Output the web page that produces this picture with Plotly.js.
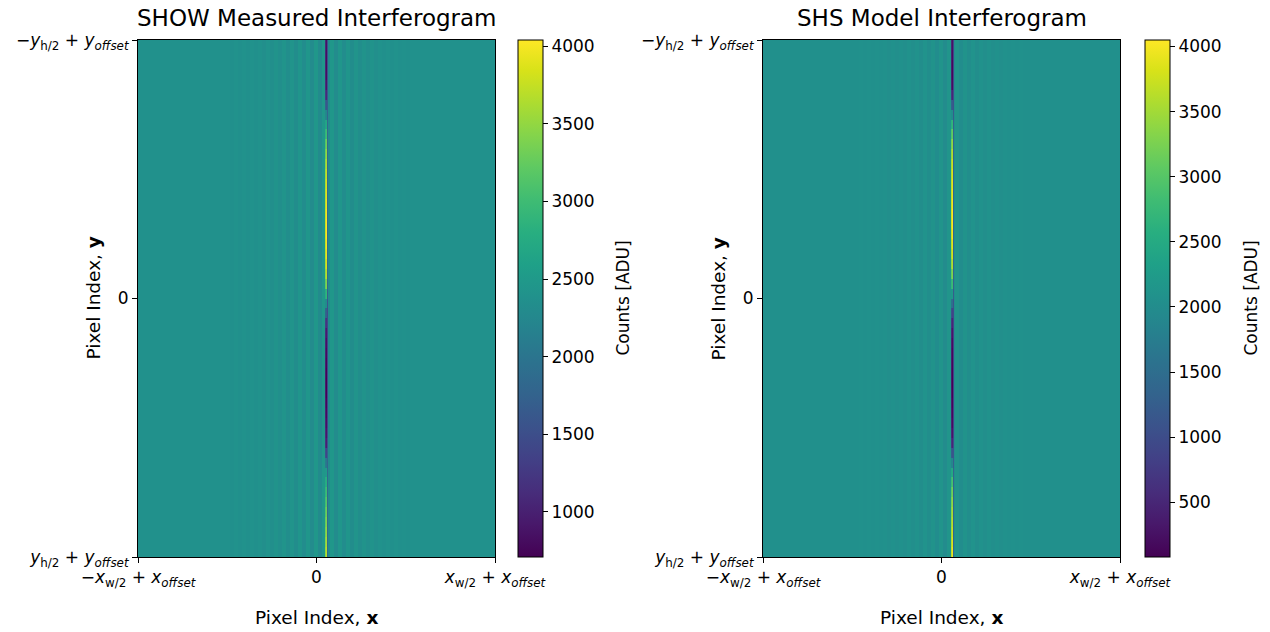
<!DOCTYPE html>
<html>
<head>
<meta charset="utf-8">
<script src="https://cdn.plot.ly/plotly-3.0.1.min.js"></script>
<style>html,body{margin:0;padding:0;background:#fff;}#chart{width:1270px;height:632px;}</style>
</head>
<body>
<div id="chart"></div>
<script>
// ---- Data ----
const panelTitles = ["SHOW Measured Interferogram", "SHS Model Interferogram"];
const colorbarTitle = "Counts [ADU]";
const xAxisTitle = "Pixel Index, <b>x</b>";
const yAxisTitle = "Pixel Index, <b>y</b>";
const xTickText = ["−<i>x</i><sub>w/2</sub> + <i>x</i><sub><i>offset</i></sub>", "0", "<i>x</i><sub>w/2</sub> + <i>x</i><sub><i>offset</i></sub>"];
const yTickText = ["−<i>y</i><sub>h/2</sub> + <i>y</i><sub><i>offset</i></sub>", "0", "<i>y</i><sub>h/2</sub> + <i>y</i><sub><i>offset</i></sub>"];

// pixel grid (relative to centre)
const halfWidth = 178;   // columns -178..178
const halfHeight = 260;  // rows of 10 px from -260..260
const rowStep = 10;

// background level (ADU)
const measuredBackground = 2380;
const modelBackground = 2060;

// fringe column (relative to centre)
const measuredFringeCol = 10;
const modelFringeCol = 11;

// value at the fringe column, one per row band (top to bottom)
const measuredPeak = [850,820,800,820,900,1100,1600,2200,2700,3000,3300,3500,3650,3750,3850,3900,3950,4000,4040,4040,4000,3950,3850,3700,3400,2900,2300,1700,1200,950,850,800,760,730,710,720,760,800,850,900,1000,1400,2000,2500,2800,3000,3150,3300,3400,3500,3600,3700];
const measuredLeftNeighbour = [1100,1080,1060,1080,1150,1300,1750,2250,2650,2900,3150,3300,3450,3550,3620,3670,3700,3750,3780,3780,3750,3700,3620,3500,3250,2800,2320,1800,1350,1150,1080,1040,1000,980,960,970,1000,1040,1080,1130,1200,1550,2080,2480,2750,2900,3030,3150,3250,3330,3420,3500];
const measuredRightNeighbour = [1500,1500,1500,1500,1550,1600,1700,1800,1850,1850,1850,1850,1850,1850,1850,1850,1850,1850,1850,1850,1850,1850,1850,1850,1800,1700,1600,1500,1450,1400,1400,1400,1400,1400,1400,1400,1400,1400,1400,1450,1550,1700,1800,1850,1850,1850,1850,1850,1850,1850,1850,1850];

const modelPeak = [250,200,150,120,200,500,1200,2000,2700,3100,3400,3600,3750,3850,3900,3950,4000,4050,4050,4000,3900,3800,3600,3300,2800,2200,1500,900,500,300,200,150,120,100,80,90,120,160,200,300,500,1100,1900,2500,2900,3200,3400,3550,3650,3750,3850,3950];
const modelLeftNeighbour = [520,480,440,410,480,740,1330,2000,2600,2950,3200,3380,3500,3580,3620,3670,3700,3750,3750,3700,3620,3540,3380,3110,2690,2180,1580,1070,740,560,480,440,410,390,380,390,410,440,480,560,740,1250,1880,2430,2770,3030,3200,3330,3410,3500,3580,3670];
const modelRightNeighbour = [900,900,900,900,950,1000,1100,1250,1350,1400,1400,1400,1400,1400,1400,1400,1400,1400,1400,1400,1400,1400,1400,1400,1350,1250,1100,1000,900,850,850,850,850,850,850,850,850,850,850,900,1000,1150,1300,1400,1400,1400,1400,1400,1400,1400,1400,1400];

// faint side fringes: deviation from background in 4-px column blocks starting at x = -90
const stripeStart = -90;
const stripeBlock = 4;
const measuredStripes = [8,-8,12,-12,15,-15,18,-18,22,-22,26,-26,32,-32,40,-40,48,-48,58,-58,70,-70,80,-80,90,-90,80,-75,68,-60,55,-50,45,-40,36,-32,28,-24,20,-18,16,-14,12,-10,8,-6,5,-4,3,-2];
const modelStripes = [4,-4,6,-6,8,-8,10,-10,13,-13,16,-16,20,-20,26,-26,32,-32,40,-40,50,-50,62,-62,75,-75,62,-55,48,-42,38,-34,30,-26,22,-18,16,-13,11,-9,7,-6,5,-4,3,-2,2,-1,1,-1];

// ---- Build the image matrices from the arrays ----
const xs = [];
for (let c = -halfWidth; c <= halfWidth; c++) xs.push(c);
const ys = [];
for (let i = 0; i < measuredPeak.length; i++) ys.push(-halfHeight + rowStep / 2 + i * rowStep);

function buildZ(bg, stripes, fc, peak, right, left) {
  const z = [];
  for (let r = 0; r < ys.length; r++) {
    const row = [];
    for (const x of xs) {
      let v = bg;
      const b = Math.floor((x - stripeStart) / stripeBlock);
      if (b >= 0 && b < stripes.length) v += stripes[b];
      if (x === fc) v = peak[r];
      else if (x === fc + 1) v = right[r];
      else if (x === fc - 1) v = left[r];
      row.push(v);
    }
    z.push(row);
  }
  return z;
}
const zMeasured = buildZ(measuredBackground, measuredStripes, measuredFringeCol, measuredPeak, measuredRightNeighbour, measuredLeftNeighbour);
const zModel = buildZ(modelBackground, modelStripes, modelFringeCol, modelPeak, modelRightNeighbour, modelLeftNeighbour);

// ---- Layout geometry (pixels -> paper) ----
const W = 1270, H = 632;
const FONT = "DejaVu Sans, sans-serif";
const plotTop = 40, plotBottom = 557;
const yDom = [1 - plotBottom / H, 1 - plotTop / H];
const left1 = 138, right1 = 495, cb1 = 518;
const left2 = 763, right2 = 1120, cb2 = 1145;

function colorbar(xpx) {
  return {
    x: xpx / W, xanchor: "left", xref: "paper",
    y: (yDom[0] + yDom[1]) / 2, yanchor: "middle",
    len: (plotBottom - plotTop) / H, lenmode: "fraction",
    thickness: 25, thicknessmode: "pixels",
    xpad: 0, ypad: 0,
    outlinewidth: 1, outlinecolor: "#000",
    ticks: "outside", ticklen: 5, tickcolor: "#000", tickwidth: 1,
    tick0: 0, dtick: 500,
    tickfont: {family: FONT, size: 17, color: "#000"}
  };
}

const traces = [
  {type: "heatmap", x: xs, y: ys, z: zMeasured, colorscale: "Viridis", zsmooth: false,
   xaxis: "x", yaxis: "y", colorbar: colorbar(cb1), hoverinfo: "skip"},
  {type: "heatmap", x: xs, y: ys, z: zModel, colorscale: "Viridis", zsmooth: false,
   xaxis: "x2", yaxis: "y2", colorbar: colorbar(cb2), hoverinfo: "skip"}
];

function xaxis(l, r, anchor) {
  return {
    domain: [l / W, r / W], anchor: anchor,
    range: [-halfWidth - 0.5, halfWidth + 0.5],
    tickmode: "array", tickvals: [-halfWidth - 0.5, 0, halfWidth + 0.5], ticktext: xTickText,
    ticks: "outside", ticklen: 5, tickcolor: "#000", tickwidth: 1,
    showline: true, mirror: true, linecolor: "#000", linewidth: 1,
    showgrid: false, zeroline: false,
    tickfont: {family: FONT, size: 17, color: "#000"}
  };
}
function yaxis(anchor) {
  return {
    domain: yDom, anchor: anchor,
    range: [halfHeight, -halfHeight],
    tickmode: "array", tickvals: [-halfHeight, 0, halfHeight], ticktext: yTickText,
    ticks: "outside", ticklen: 5, tickcolor: "#000", tickwidth: 1,
    showline: true, mirror: true, linecolor: "#000", linewidth: 1,
    showgrid: false, zeroline: false,
    tickfont: {family: FONT, size: 17, color: "#000"}
  };
}

function ann(text, xpx, ypx, size, angle) {
  return {text: text, xref: "paper", yref: "paper", x: xpx / W, y: 1 - ypx / H,
    xanchor: "center", yanchor: "middle", showarrow: false, textangle: angle || 0,
    font: {family: FONT, size: size, color: "#000"}};
}

const layout = {
  width: W, height: H,
  margin: {l: 0, r: 0, t: 0, b: 0},
  paper_bgcolor: "#fff", plot_bgcolor: "#fff",
  showlegend: false,
  xaxis: xaxis(left1, right1, "y"),
  yaxis: yaxis("x"),
  xaxis2: xaxis(left2, right2, "y2"),
  yaxis2: yaxis("x2"),
  annotations: [
    ann(panelTitles[0], (left1 + right1) / 2, 18, 23),
    ann(panelTitles[1], (left2 + right2) / 2, 18, 23),
    ann(xAxisTitle, (left1 + right1) / 2, 617, 18.5),
    ann(xAxisTitle, (left2 + right2) / 2, 617, 18.5),
    ann(yAxisTitle, 93, (plotTop + plotBottom) / 2, 18.5, -90),
    ann(yAxisTitle, 718, (plotTop + plotBottom) / 2, 18.5, -90),
    ann(colorbarTitle, 622, (plotTop + plotBottom) / 2, 17, -90),
    ann(colorbarTitle, 1250, (plotTop + plotBottom) / 2, 17, -90)
  ]
};

Plotly.newPlot("chart", traces, layout, {displayModeBar: false, staticPlot: true});
</script>
</body>
</html>
